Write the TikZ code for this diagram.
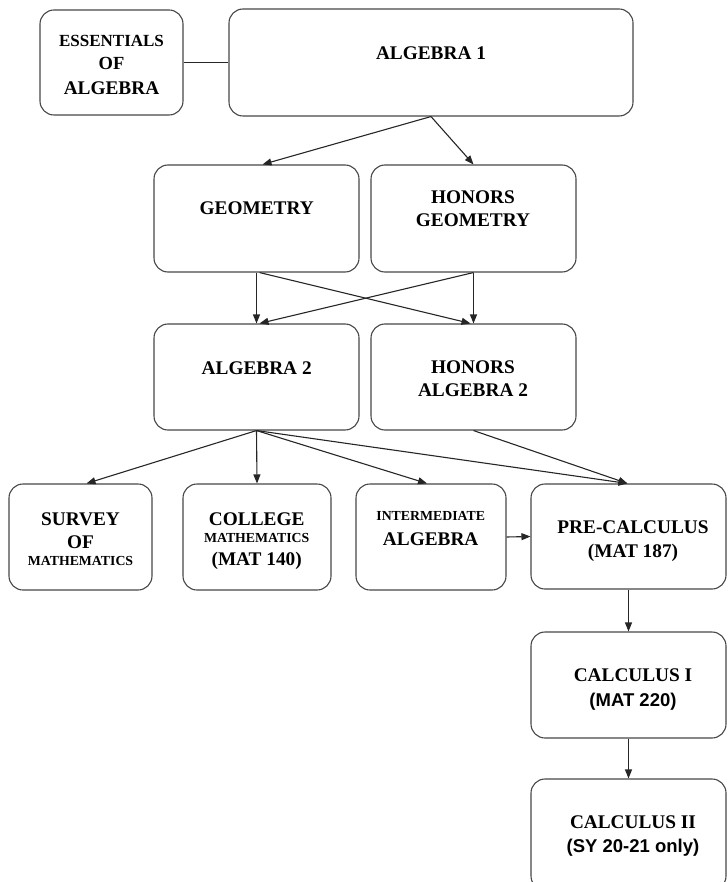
\documentclass[tikz,border=0pt]{standalone}
\usepackage{fontspec}
\setmainfont{Liberation Serif}
\setsansfont{Liberation Sans}
\usetikzlibrary{arrows.meta,calc}
\begin{document}
\begin{tikzpicture}[x=1pt,y=-1pt,
  box/.style={draw=black!72, line width=1.1pt, rounded corners=14pt, inner sep=0pt},
  conn/.style={draw=black!85, line width=1.1pt},
  arr/.style={conn, -{Triangle[length=9pt,width=7pt]}},
  big/.style={font=\bfseries\fontsize{19.3}{23}\selectfont, anchor=base, inner sep=0pt},
  mid/.style={font=\bfseries\fontsize{17}{20}\selectfont, anchor=base, inner sep=0pt},
  small/.style={font=\bfseries\fontsize{13.8}{16}\selectfont, anchor=base, inner sep=0pt},
  sans/.style={font=\sffamily\bfseries\fontsize{18.5}{22}\selectfont, anchor=base, inner sep=0pt}]
\useasboundingbox (0,0) rectangle (727,882);

% boxes
\node[box, minimum width=143pt, minimum height=105pt] (ess) at (111.5,62.5) {};
\node[box, minimum width=404pt, minimum height=107pt] (alg1) at (431,62.5) {};
\node[box, minimum width=205pt, minimum height=107pt] (geo) at (256.5,218.5) {};
\node[box, minimum width=205pt, minimum height=107pt] (hgeo) at (473.5,218.5) {};
\node[box, minimum width=205pt, minimum height=106pt] (alg2) at (256.5,377) {};
\node[box, minimum width=205pt, minimum height=106pt] (halg2) at (473.5,377) {};
\node[box, minimum width=143pt, minimum height=106pt] (survey) at (80.5,537) {};
\node[box, minimum width=148pt, minimum height=106pt] (college) at (257,537) {};
\node[box, minimum width=150pt, minimum height=106pt] (inter) at (431,537) {};
\node[box, minimum width=195pt, minimum height=105pt] (precalc) at (628.5,536.5) {};
\node[box, minimum width=195pt, minimum height=106pt] (calc1) at (628.5,685) {};
\node[box, minimum width=195pt, minimum height=111pt] (calc2) at (628.5,834.5) {};

% texts
\node[mid] (t-ess1) at (111.5,46.7) {ESSENTIALS};
\node[big, font=\bfseries\fontsize{18.5}{22}\selectfont] (t-ess2) at (111.5,70) {OF};
\node[big] (t-ess3) at (111.5,94.3) {ALGEBRA};
\node[big] (t-alg1) at (431,59.3) {ALGEBRA 1};
\node[big] (t-geo) at (256.7,214.3) {GEOMETRY};
\node[big] (t-hgeo1) at (473,203.3) {HONORS};
\node[big] (t-hgeo2) at (473,226.7) {GEOMETRY};
\node[big] (t-alg2) at (256.7,374) {ALGEBRA 2};
\node[big] (t-halg21) at (473,373.3) {HONORS};
\node[big] (t-halg22) at (473,396.7) {ALGEBRA 2};
\node[big] (t-sur1) at (80.5,525.7) {SURVEY};
\node[big] (t-sur2) at (80.5,548.3) {OF};
\node[small] (t-sur3) at (80.5,565.7) {MATHEMATICS};
\node[big] (t-col1) at (256.7,525.7) {COLLEGE};
\node[small] (t-col2) at (256.7,542.3) {MATHEMATICS};
\node[big] (t-col3) at (256.7,565.7) {(MAT 140)};
\node[small] (t-int1) at (430.7,520.7) {INTERMEDIATE};
\node[big] (t-int2) at (430.7,545) {ALGEBRA};
\node[big] (t-pre1) at (633,533.3) {PRE-CALCULUS};
\node[big] (t-pre2) at (633,557.3) {(MAT 187)};
\node[big] (t-c11) at (633,681) {CALCULUS I};
\node[sans] (t-c12) at (633,706) {(MAT 220)};
\node[big] (t-c21) at (633,828.3) {CALCULUS II};
\node[sans] (t-c22) at (633,852.3) {(SY 20-21 only)};

% connectors
\draw[conn] (ess.east) -- (alg1.west);
\draw[arr] (alg1.south) -- ($(geo.north)+(6,0)$);
\draw[arr] (alg1.south) -- (hgeo.north);
\draw[arr] (geo.south) -- (alg2.north);
\draw[arr] ($(geo.south)+(3,0)$) -- ($(halg2.north)+(-3,0)$);
\draw[arr] (hgeo.south) -- ($(alg2.north)+(3,0)$);
\draw[arr] (hgeo.south) -- (halg2.north);
\draw[arr] (alg2.south) -- ($(survey.north)+(6,0)$);
\draw[arr] (alg2.south) -- (college.north);
\draw[arr] (alg2.south) -- ($(inter.north)+(-4,0)$);
\draw[arr] (alg2.south) -- ($(precalc.north)+(-1,0)$);
\draw[arr] (halg2.south) -- ($(precalc.north)+(-1,0)$);
\draw[arr] (inter.east) -- (precalc.west);
\draw[arr] (precalc.south) -- (calc1.north);
\draw[arr] (calc1.south) -- (calc2.north);
\end{tikzpicture}
\end{document}
